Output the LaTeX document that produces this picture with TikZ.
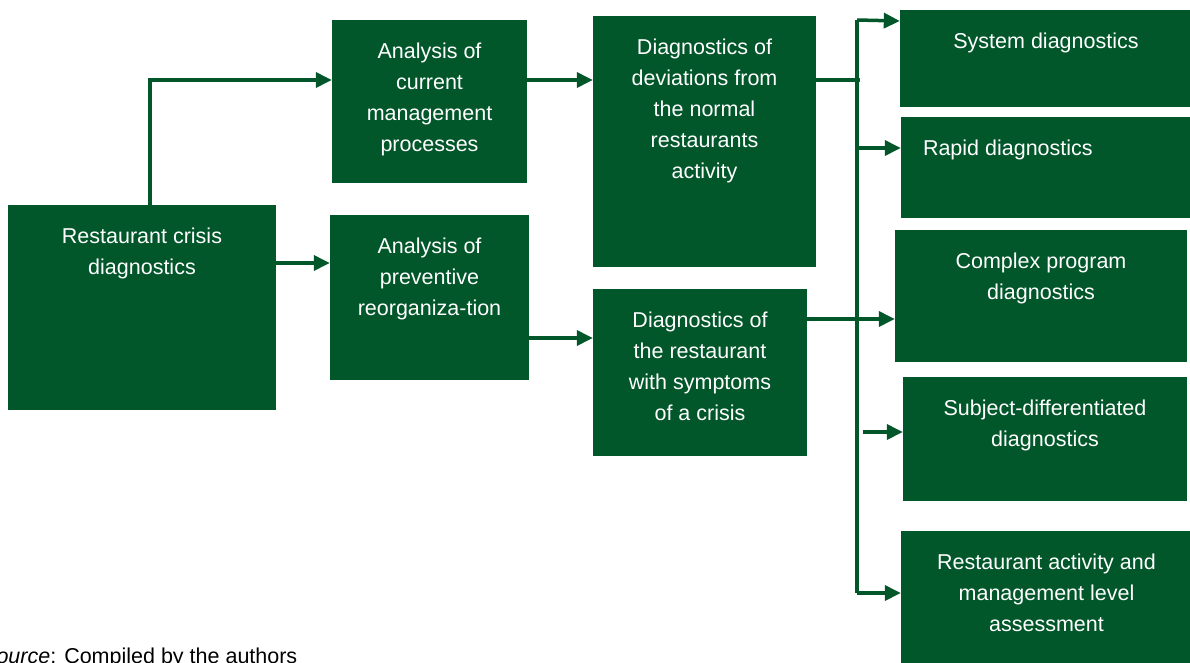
\documentclass[tikz,border=0pt]{standalone}
\usepackage{fontspec}
\setmainfont{Liberation Sans}
\definecolor{boxgreen}{RGB}{1, 86, 42}
\usepackage{tikz}
\usetikzlibrary{arrows.meta, positioning}

\begin{document}
\begin{tikzpicture}[x=1pt, y=-1pt,
    box/.style={fill=boxgreen, draw=none, rectangle, inner sep=0pt},
    txt/.style={text=white, align=center, inner sep=0pt, font=\fontsize{21.5}{31}\selectfont},
    link/.style={draw=boxgreen, line width=3.5pt},
    arr/.style={link, -{Triangle[length=16pt, width=15pt]}}]
    \useasboundingbox (0,0) rectangle (1190,662);
    % Boxes
    \node[box, minimum width=268, minimum height=205] (b1) at (142,307.5) {};
    \node[box, minimum width=195, minimum height=163] (b2) at (429.5,101.5) {};
    \node[box, minimum width=199, minimum height=165] (b3) at (429.5,297.5) {};
    \node[box, minimum width=223, minimum height=251] (b4) at (704.5,141.5) {};
    \node[box, minimum width=214, minimum height=167] (b5) at (700,372.5) {};
    \node[box, minimum width=292, minimum height=97] (b6) at (1046,58.5) {};
    \node[box, minimum width=291, minimum height=101] (b7) at (1046.5,167.5) {};
    \node[box, minimum width=292, minimum height=132] (b8) at (1041,296) {};
    \node[box, minimum width=284, minimum height=124] (b9) at (1045,439) {};
    \node[box, minimum width=291, minimum height=133] (b10) at (1046.5,597.5) {};
    % Texts
    \node[txt, below=22.5pt of b1.north] (t1) {Restaurant crisis\\diagnostics};
    \node[txt, below=22.5pt of b2.north] (t2) {Analysis of\\current\\management\\processes};
    \node[txt, below=22.5pt of b3.north] (t3) {Analysis of\\preventive\\reorganiza-tion};
    \node[txt, below=22.5pt of b4.north] (t4) {Diagnostics of\\deviations from\\the normal\\restaurants\\activity};
    \node[txt, below=22.5pt of b5.north] (t5) {Diagnostics of\\the restaurant\\with symptoms\\of a crisis};
    \node[txt, below=22.5pt of b6.north] (t6) {System diagnostics};
    \node[txt, below right=22.5pt and 22pt of b7.north west] (t7) {Rapid diagnostics};
    \node[txt, below=22.5pt of b8.north] (t8) {Complex program\\diagnostics};
    \node[txt, below=22.5pt of b9.north] (t9) {Subject-differentiated\\diagnostics};
    \node[txt, below=22.5pt of b10.north] (t10) {Restaurant activity and\\management level\\assessment};
    % Left part
    \draw[arr] ([xshift=8pt]b1.north) |- ([yshift=21.5pt]b2.west);
    \draw[arr] ([yshift=34.5pt]b3.west -| b1.east) -- ([yshift=34.5pt]b3.west);
    \draw[arr] ([yshift=21.5pt]b2.east) -- ([yshift=21.5pt]b2.east -| b4.west);
    \draw[arr] ([yshift=-40.5pt]b3.east) -- ([yshift=-40.5pt]b3.east -| b5.west);
    % Bus
    \coordinate (bustop) at (857,20);
    \coordinate (busend) at (857,593);
    \draw[link] (bustop) -- (busend);
    \draw[link] ([yshift=61.5pt]b4.east) -- ([yshift=61.5pt, xshift=3pt]b4.east -| bustop);
    \draw[link] ([yshift=53.5pt]b5.east) -- ([yshift=53.5pt]b5.east -| bustop);
    % Right part
    \draw[arr] (bustop) -- ([yshift=37.5pt]b6.west);
    \draw[arr] ([yshift=19.5pt]b7.west -| bustop) -- ([yshift=19.5pt]b7.west);
    \draw[arr] ([yshift=-23pt]b8.west -| bustop) -- ([yshift=-23pt]b8.west);
    \draw[arr] ([yshift=7pt, xshift=6pt]b9.west -| bustop) -- ([yshift=7pt]b9.west);
    \draw[arr] (busend) -- (busend -| b10.west);
    % Source
    \node[anchor=base west, inner sep=0pt, font=\fontsize{21.5}{26}\selectfont] (src) at (-18,663) {{\itshape Source}: Compiled by the authors};
\end{tikzpicture}
\end{document}
